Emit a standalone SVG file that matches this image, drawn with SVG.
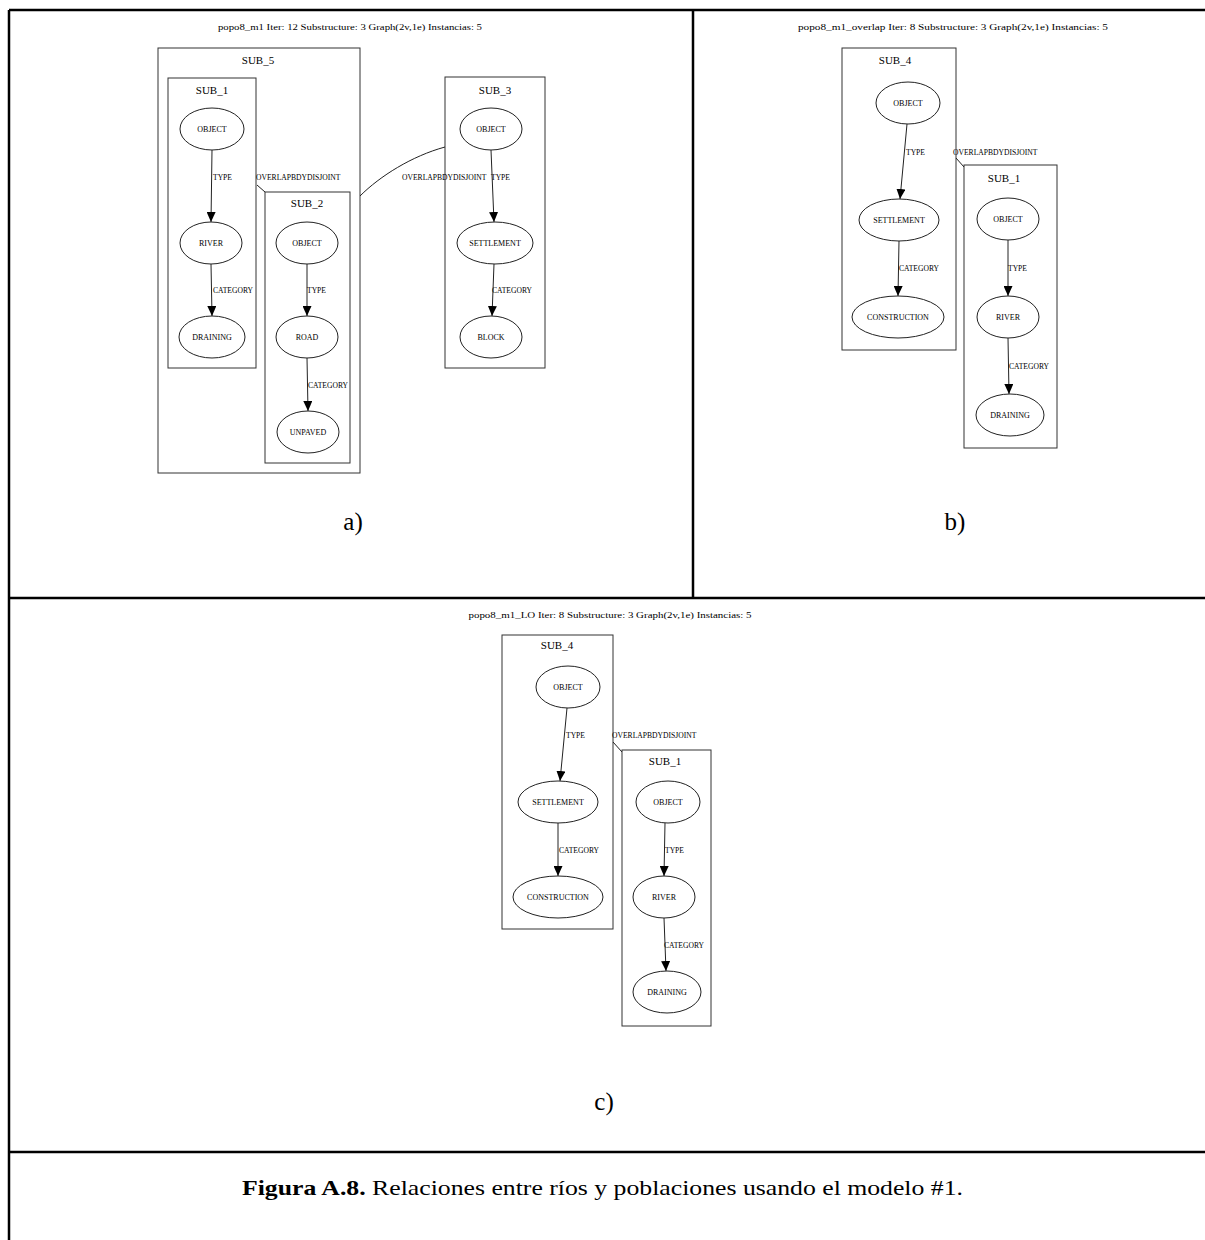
<svg xmlns="http://www.w3.org/2000/svg" width="1205" height="1240" viewBox="0 0 1205 1240">
<style>
.frame{stroke:#000;stroke-width:2.5;fill:none}
.box{fill:none;stroke:#333;stroke-width:1}
.node{fill:#fff;stroke:#222;stroke-width:1}
.edge{fill:none;stroke:#222;stroke-width:1}
.nl{font-family:"Liberation Serif",serif;font-size:8px;text-anchor:middle;fill:#000}
.el{font-family:"Liberation Serif",serif;font-size:7.6px;fill:#000}
.cl{font-family:"Liberation Serif",serif;font-size:11px;text-anchor:middle;fill:#000}
.tt{font-family:"Liberation Serif",serif;font-size:9px;text-anchor:middle;fill:#000}
.pl{font-family:"Liberation Serif",serif;font-size:25px;text-anchor:middle;fill:#000}
.cap{font-family:"Liberation Serif",serif;font-size:21px;fill:#000}
</style>
<defs>
<marker id="ah" markerUnits="userSpaceOnUse" markerWidth="10" markerHeight="9" refX="10" refY="4.5" orient="auto">
<path d="M0,0 L10,4.5 L0,9 z" fill="#000"/>
</marker>
</defs>
<rect width="1205" height="1240" fill="#fff"/>
<g id="frame">
<line class="frame" x1="9" y1="10" x2="1205" y2="10"/>
<line class="frame" x1="9" y1="10" x2="9" y2="1240"/>
<line class="frame" x1="693" y1="10" x2="693" y2="598"/>
<line class="frame" x1="9" y1="598" x2="1205" y2="598"/>
<line class="frame" x1="9" y1="1152" x2="1205" y2="1152"/>
</g>
<g id="titles">
<text class="tt" x="350" y="30" textLength="264" lengthAdjust="spacingAndGlyphs">popo8_m1 Iter: 12 Substructure: 3 Graph(2v,1e) Instancias: 5</text>
<text class="tt" x="953" y="30" textLength="310" lengthAdjust="spacingAndGlyphs">popo8_m1_overlap Iter: 8 Substructure: 3 Graph(2v,1e) Instancias: 5</text>
<text class="tt" x="610" y="618" textLength="283" lengthAdjust="spacingAndGlyphs">popo8_m1_LO Iter: 8 Substructure: 3 Graph(2v,1e) Instancias: 5</text>
<text class="pl" x="353" y="530">a)</text>
<text class="pl" x="955" y="530">b)</text>
<text class="pl" x="604" y="1110">c)</text>
<text class="cap" x="242" y="1195" textLength="721" lengthAdjust="spacingAndGlyphs"><tspan font-weight="bold">Figura A.8.</tspan> Relaciones entre ríos y poblaciones usando el modelo #1.</text>
</g>
<g id="clusters">
<g id="a_SUB_5"><rect class="box" x="158" y="48" width="202" height="425"/><text class="cl" x="258" y="64">SUB_5</text></g>
<g id="a_SUB_1"><rect class="box" x="168" y="78" width="88" height="290"/><text class="cl" x="212" y="94">SUB_1</text></g>
<g id="a_SUB_2"><rect class="box" x="265" y="192" width="85" height="271"/><text class="cl" x="307" y="207">SUB_2</text></g>
<g id="a_SUB_3"><rect class="box" x="445" y="77" width="100" height="291"/><text class="cl" x="495" y="94">SUB_3</text></g>
<g id="b_SUB_4"><rect class="box" x="842" y="48" width="114" height="302"/><text class="cl" x="895" y="64">SUB_4</text></g>
<g id="b_SUB_1"><rect class="box" x="964" y="165" width="93" height="283"/><text class="cl" x="1004" y="182">SUB_1</text></g>
<g id="c_SUB_4"><rect class="box" x="502" y="635" width="111" height="294"/><text class="cl" x="557" y="649">SUB_4</text></g>
<g id="c_SUB_1"><rect class="box" x="622" y="750" width="89" height="276"/><text class="cl" x="665" y="765">SUB_1</text></g>
</g>
<g id="connectors">
<line class="edge" x1="212" y1="150" x2="211" y2="222" marker-end="url(#ah)"/>
<line class="edge" x1="211" y1="264" x2="212" y2="316" marker-end="url(#ah)"/>
<line class="edge" x1="307" y1="264" x2="307" y2="316" marker-end="url(#ah)"/>
<line class="edge" x1="307" y1="358" x2="308" y2="411" marker-end="url(#ah)"/>
<line class="edge" x1="491" y1="150" x2="494" y2="222" marker-end="url(#ah)"/>
<line class="edge" x1="494" y1="264" x2="492" y2="316" marker-end="url(#ah)"/>
<path class="edge" d="M360,196 C380,176 412,156 445,147"/>
<path class="edge" d="M257,185 L265,192"/>
<line class="edge" x1="907" y1="124" x2="900" y2="199" marker-end="url(#ah)"/>
<line class="edge" x1="899" y1="241" x2="898" y2="296" marker-end="url(#ah)"/>
<line class="edge" x1="1008" y1="240" x2="1008" y2="296" marker-end="url(#ah)"/>
<line class="edge" x1="1008" y1="338" x2="1009" y2="394" marker-end="url(#ah)"/>
<path class="edge" d="M956,158 L964,167"/>
<line class="edge" x1="567" y1="708" x2="560" y2="781" marker-end="url(#ah)"/>
<line class="edge" x1="558" y1="823" x2="558" y2="876" marker-end="url(#ah)"/>
<line class="edge" x1="665" y1="823" x2="664" y2="876" marker-end="url(#ah)"/>
<line class="edge" x1="664" y1="918" x2="666" y2="971" marker-end="url(#ah)"/>
<path class="edge" d="M613,742 L622,752"/>
<text class="el" x="213" y="180">TYPE</text>
<text class="el" x="213" y="293">CATEGORY</text>
<text class="el" x="307" y="293">TYPE</text>
<text class="el" x="308" y="388">CATEGORY</text>
<text class="el" x="256" y="180">OVERLAPBDYDISJOINT</text>
<text class="el" x="402" y="180">OVERLAPBDYDISJOINT</text>
<text class="el" x="491" y="180">TYPE</text>
<text class="el" x="492" y="293">CATEGORY</text>
<text class="el" x="906" y="155">TYPE</text>
<text class="el" x="899" y="271">CATEGORY</text>
<text class="el" x="953" y="155">OVERLAPBDYDISJOINT</text>
<text class="el" x="1008" y="271">TYPE</text>
<text class="el" x="1009" y="369">CATEGORY</text>
<text class="el" x="566" y="738">TYPE</text>
<text class="el" x="559" y="853">CATEGORY</text>
<text class="el" x="612" y="738">OVERLAPBDYDISJOINT</text>
<text class="el" x="665" y="853">TYPE</text>
<text class="el" x="664" y="948">CATEGORY</text>
</g>
<g id="a_OBJECT_1"><ellipse class="node" cx="212" cy="129" rx="32" ry="21"/><text class="nl" x="212" y="132">OBJECT</text></g>
<g id="a_RIVER"><ellipse class="node" cx="211" cy="243" rx="31" ry="21"/><text class="nl" x="211" y="246">RIVER</text></g>
<g id="a_DRAINING"><ellipse class="node" cx="212" cy="337" rx="33" ry="21"/><text class="nl" x="212" y="340">DRAINING</text></g>
<g id="a_OBJECT_2"><ellipse class="node" cx="307" cy="243" rx="31" ry="21"/><text class="nl" x="307" y="246">OBJECT</text></g>
<g id="a_ROAD"><ellipse class="node" cx="307" cy="337" rx="31" ry="21"/><text class="nl" x="307" y="340">ROAD</text></g>
<g id="a_UNPAVED"><ellipse class="node" cx="308" cy="432" rx="31" ry="21"/><text class="nl" x="308" y="435">UNPAVED</text></g>
<g id="a_OBJECT_3"><ellipse class="node" cx="491" cy="129" rx="31" ry="21"/><text class="nl" x="491" y="132">OBJECT</text></g>
<g id="a_SETTLEMENT"><ellipse class="node" cx="495" cy="243" rx="38" ry="21"/><text class="nl" x="495" y="246">SETTLEMENT</text></g>
<g id="a_BLOCK"><ellipse class="node" cx="491" cy="337" rx="31" ry="21"/><text class="nl" x="491" y="340">BLOCK</text></g>
<g id="b_OBJECT_1"><ellipse class="node" cx="908" cy="103" rx="32" ry="21"/><text class="nl" x="908" y="106">OBJECT</text></g>
<g id="b_SETTLEMENT"><ellipse class="node" cx="899" cy="220" rx="40" ry="21"/><text class="nl" x="899" y="223">SETTLEMENT</text></g>
<g id="b_CONSTRUCTION"><ellipse class="node" cx="898" cy="317" rx="46" ry="21"/><text class="nl" x="898" y="320">CONSTRUCTION</text></g>
<g id="b_OBJECT_2"><ellipse class="node" cx="1008" cy="219" rx="31" ry="21"/><text class="nl" x="1008" y="222">OBJECT</text></g>
<g id="b_RIVER"><ellipse class="node" cx="1008" cy="317" rx="31" ry="21"/><text class="nl" x="1008" y="320">RIVER</text></g>
<g id="b_DRAINING"><ellipse class="node" cx="1010" cy="415" rx="34" ry="21"/><text class="nl" x="1010" y="418">DRAINING</text></g>
<g id="c_OBJECT_1"><ellipse class="node" cx="568" cy="687" rx="32" ry="21"/><text class="nl" x="568" y="690">OBJECT</text></g>
<g id="c_SETTLEMENT"><ellipse class="node" cx="558" cy="802" rx="40" ry="21"/><text class="nl" x="558" y="805">SETTLEMENT</text></g>
<g id="c_CONSTRUCTION"><ellipse class="node" cx="558" cy="897" rx="45" ry="21"/><text class="nl" x="558" y="900">CONSTRUCTION</text></g>
<g id="c_OBJECT_2"><ellipse class="node" cx="668" cy="802" rx="32" ry="21"/><text class="nl" x="668" y="805">OBJECT</text></g>
<g id="c_RIVER"><ellipse class="node" cx="664" cy="897" rx="31" ry="21"/><text class="nl" x="664" y="900">RIVER</text></g>
<g id="c_DRAINING"><ellipse class="node" cx="667" cy="992" rx="34" ry="21"/><text class="nl" x="667" y="995">DRAINING</text></g>
</svg>
